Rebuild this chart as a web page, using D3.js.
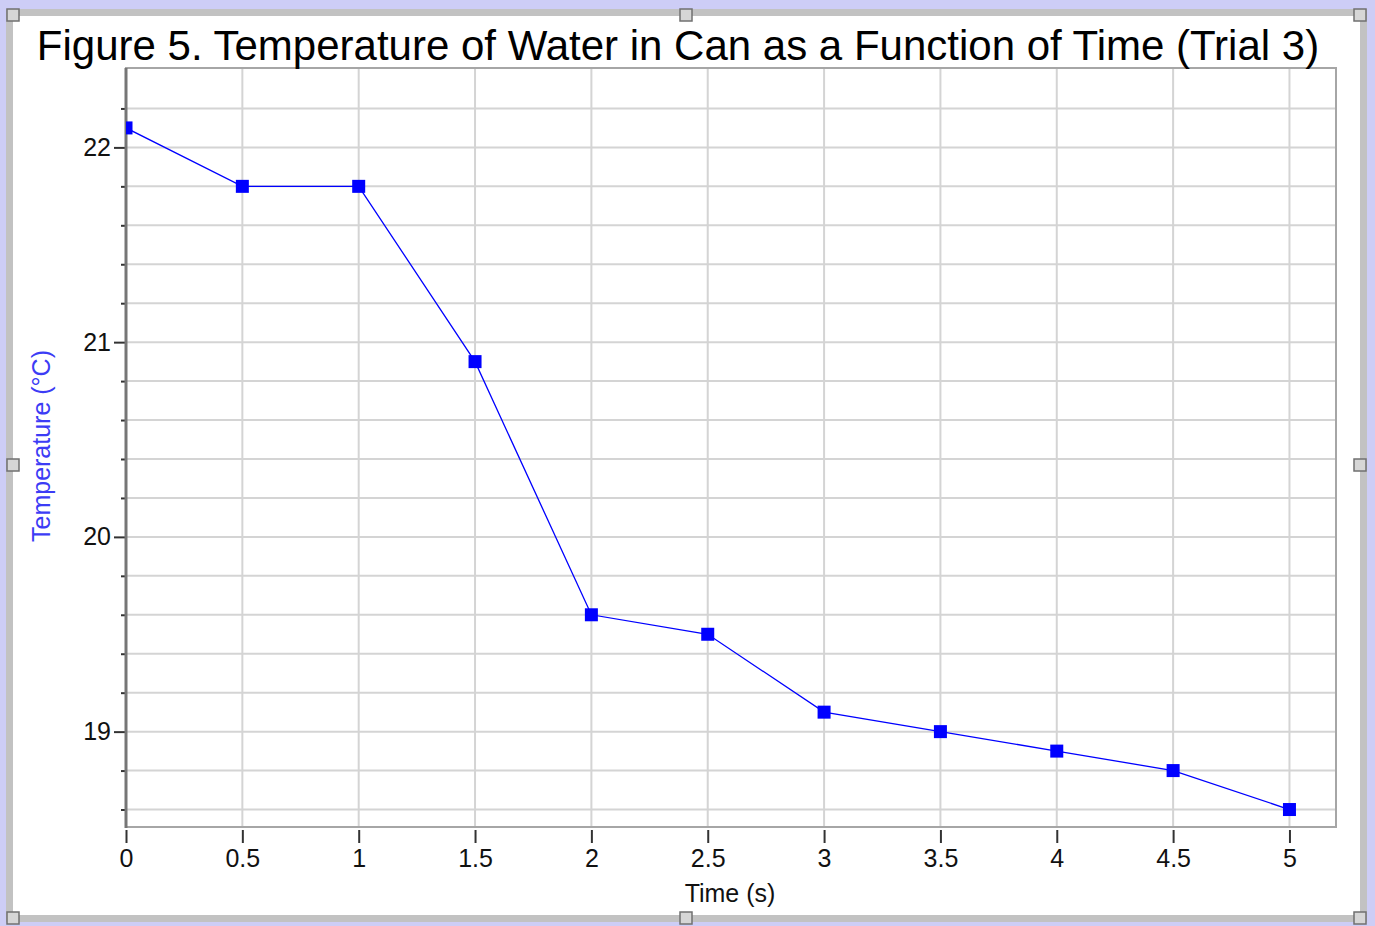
<!DOCTYPE html>
<html>
<head>
<meta charset="utf-8">
<script src="https://cdn.jsdelivr.net/npm/d3@7"></script>
<style>
    html, body { margin: 0; padding: 0; background: #cdcdf6; }
    svg { display: block; font-family: "Liberation Sans", Arial, sans-serif; }
</style>
</head>
<body>
<svg id="chart" width="1375" height="926"></svg>
<script>
// Data
const times = [0, 0.5, 1, 1.5, 2, 2.5, 3, 3.5, 4, 4.5, 5];
const temps = [22.1, 21.8, 21.8, 20.9, 19.6, 19.5, 19.1, 19.0, 18.9, 18.8, 18.6];
const xTicks = [0, 0.5, 1, 1.5, 2, 2.5, 3, 3.5, 4, 4.5, 5];
const yMajor = [19, 20, 21, 22];
const yMinor = [18.6, 18.8, 19.2, 19.4, 19.6, 19.8, 20.2, 20.4, 20.6, 20.8, 21.2, 21.4, 21.6, 21.8, 22.2];

const titleText = 'Figure 5. Temperature of Water in Can as a Function of Time (Trial 3)';
const xLabel = 'Time (s)';
const yLabel = 'Temperature (\u00B0C)';

const svg = d3.select('#chart');

// Window frame
svg.append('rect')
    .attr('x', 9.5).attr('y', 12.5)
    .attr('width', 1354).attr('height', 906)
    .attr('fill', '#ffffff')
    .attr('stroke', '#c2c2c2')
    .attr('stroke-width', 7);

// Plot area
const plot = { left: 126, right: 1336, top: 68, bottom: 827 };

const x = d3.scaleLinear().domain([0, 5.2]).range([plot.left, plot.right]);
const y = d3.scaleLinear().domain([18.5, 22.4]).range([plot.bottom + 2, plot.top + 1.5]);

svg.append('defs').append('clipPath').attr('id', 'plot-clip')
    .append('rect')
    .attr('x', plot.left).attr('y', plot.top)
    .attr('width', plot.right - plot.left).attr('height', plot.bottom - plot.top);

// Grid
const grid = svg.append('g');
grid.selectAll('line.h')
    .data(yMajor.concat(yMinor))
    .join('line')
    .attr('class', 'h')
    .attr('x1', plot.left).attr('x2', plot.right)
    .attr('y1', d => y(d)).attr('y2', d => y(d))
    .attr('stroke', '#d4d4d4')
    .attr('stroke-width', 2);
grid.selectAll('line.v')
    .data(xTicks)
    .join('line')
    .attr('class', 'v')
    .attr('y1', plot.top).attr('y2', plot.bottom)
    .attr('x1', d => x(d)).attr('x2', d => x(d))
    .attr('stroke', '#d4d4d4')
    .attr('stroke-width', 2);

// Plot border
svg.append('rect')
    .attr('x', plot.left).attr('y', plot.top)
    .attr('width', plot.right - plot.left).attr('height', plot.bottom - plot.top)
    .attr('fill', 'none')
    .attr('stroke', '#a6a6a6')
    .attr('stroke-width', 2);

// Y axis (major ticks with labels, minor ticks without)
const yAxis = svg.append('g')
    .attr('transform', 'translate(' + plot.left + ',0)')
    .call(d3.axisLeft(y).tickValues(yMajor).tickSize(12).tickPadding(3).tickFormat(d3.format('d')));
yAxis.select('.domain').remove();
yAxis.selectAll('.tick line').attr('stroke', '#333').attr('stroke-width', 2);
yAxis.selectAll('.tick text')
    .attr('font-family', '"Liberation Sans", Arial, sans-serif')
    .attr('font-size', 25)
    .attr('fill', '#111');

const yMinorAxis = svg.append('g')
    .attr('transform', 'translate(' + plot.left + ',0)')
    .call(d3.axisLeft(y).tickValues(yMinor).tickSize(5).tickFormat(''));
yMinorAxis.select('.domain').remove();
yMinorAxis.selectAll('.tick line').attr('stroke', '#333').attr('stroke-width', 2);

svg.append('line')
    .attr('x1', plot.left).attr('x2', plot.left)
    .attr('y1', plot.top).attr('y2', plot.bottom + 1)
    .attr('stroke', '#767676')
    .attr('stroke-width', 3);

// X axis
const xAxis = svg.append('g')
    .attr('transform', 'translate(0,' + (plot.bottom + 3) + ')')
    .call(d3.axisBottom(x).tickValues(xTicks).tickSize(13).tickPadding(6).tickFormat(d => String(d)));
xAxis.select('.domain').remove();
xAxis.selectAll('.tick line').attr('stroke', '#333').attr('stroke-width', 2);
xAxis.selectAll('.tick text')
    .attr('font-family', '"Liberation Sans", Arial, sans-serif')
    .attr('font-size', 25)
    .attr('fill', '#111');

// Series
const points = times.map((t, i) => ({ t: t, v: temps[i] }));
const series = svg.append('g').attr('clip-path', 'url(#plot-clip)');

series.append('path')
    .datum(points)
    .attr('d', d3.line().x(d => x(d.t)).y(d => y(d.v)))
    .attr('fill', 'none')
    .attr('stroke', '#0000ff')
    .attr('stroke-width', 1.3);

const markerSize = 13;
series.selectAll('rect')
    .data(points)
    .join('rect')
    .attr('x', d => x(d.t) - markerSize / 2)
    .attr('y', d => y(d.v) - markerSize / 2)
    .attr('width', markerSize)
    .attr('height', markerSize)
    .attr('fill', '#0000ff');

// Title and axis labels
svg.append('text')
    .attr('x', 678).attr('y', 60)
    .attr('text-anchor', 'middle')
    .attr('font-size', 42)
    .attr('fill', '#000')
    .text(titleText);

svg.append('text')
    .attr('x', 730).attr('y', 902)
    .attr('text-anchor', 'middle')
    .attr('font-size', 25)
    .attr('fill', '#111')
    .text(xLabel);

svg.append('text')
    .attr('transform', 'translate(50,446) rotate(-90)')
    .attr('text-anchor', 'middle')
    .attr('font-size', 25)
    .attr('fill', '#3c3cf5')
    .text(yLabel);

// Resize handles
const handleX = [13, 686, 1360];
const handleY = [15, 465, 918];
const handles = [];
handleX.forEach(hx => handleY.forEach(hy => {
    if (hx !== 686 || hy !== 465) handles.push([hx, hy]);
}));
svg.selectAll('rect.handle')
    .data(handles)
    .join('rect')
    .attr('class', 'handle')
    .attr('x', d => d[0] - 6)
    .attr('y', d => d[1] - 6)
    .attr('width', 12)
    .attr('height', 12)
    .attr('fill', '#d6d6d6')
    .attr('stroke', '#707070')
    .attr('stroke-width', 1.5);
</script>
</body>
</html>
